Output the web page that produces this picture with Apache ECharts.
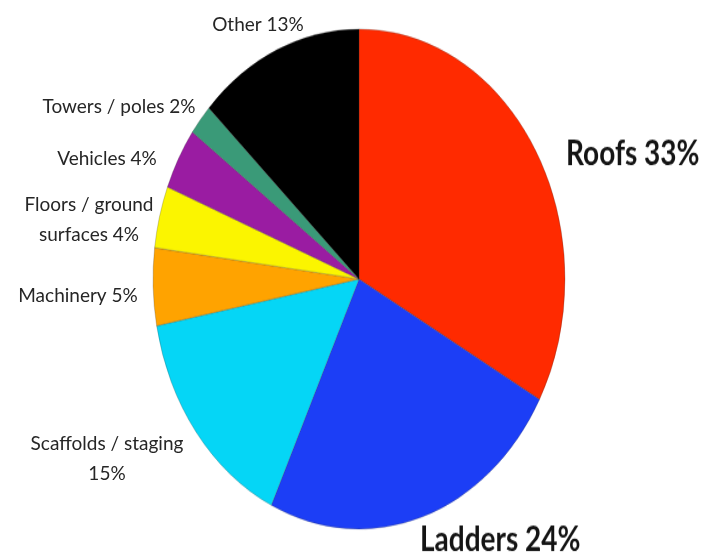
<!DOCTYPE html>
<html>
<head>
<meta charset="utf-8">
<script src="https://cdn.jsdelivr.net/npm/echarts@6/dist/echarts.min.js"></script>
<style>
html,body{margin:0;padding:0;background:#ffffff;}
#wrap{position:relative;width:705px;height:557px;overflow:hidden;background:#ffffff;}
#pie{position:absolute;left:0;top:0;width:705px;transform-origin:0 0;}
#labels{position:absolute;left:0;top:0;width:705px;height:557px;}
</style>
</head>
<body>
<div id="wrap"><div id="pie"></div><div id="labels"></div></div>
<script>
// ---- data ----
const categories = ['Roofs', 'Ladders', 'Scaffolds / staging', 'Machinery', 'Floors / ground\nsurfaces', 'Vehicles', 'Towers / poles', 'Other'];
const shares = [33, 24, 15, 5, 4, 4, 2, 13];
const valueSeparators = [' ', ' ', '\n', ' ', ' ', ' ', ' ', ' '];
const bigLabels = ['Roofs', 'Ladders'];

// ---- style ----
const colors = ['#ff2a00', '#1c3ef6', '#05d6f6', '#ffa300', '#fbf500', '#9a1ca2', '#3a9a78', '#000000'];
const ELL = { cx: 359, cy: 279, rx: 206, ry: 250 };
const SY = ELL.ry / ELL.rx;
const labelPlace = [
  { x: 566, y: 154, align: 'left' },
  { x: 420, y: 540, align: 'left' },
  { x: 107, y: 459, align: 'center' },
  { x: 78,  y: 296, align: 'center' },
  { x: 89,  y: 220, align: 'center' },
  { x: 107, y: 159, align: 'center' },
  { x: 119, y: 107, align: 'center' },
  { x: 258, y: 25,  align: 'center' }
];
const FONT = 'Lato, "Open Sans", "Liberation Sans", sans-serif';

function labelText(p) {
  return p.name + valueSeparators[p.dataIndex] + p.value + '%';
}

// ---- pie (drawn as a circle, stretched vertically into the ellipse) ----
const pieDiv = document.getElementById('pie');
pieDiv.style.height = (557 / SY) + 'px';
pieDiv.style.transform = 'scaleY(' + SY + ')';
const chartA = echarts.init(pieDiv, null, { renderer: 'canvas' });
chartA.setOption({
  animation: false,
  color: colors,
  series: [{
    type: 'pie',
    center: [ELL.cx, ELL.cy / SY],
    radius: ELL.rx,
    startAngle: 90,
    clockwise: true,
    avoidLabelOverlap: false,
    silent: true,
    itemStyle: { borderColor: 'rgba(50,50,50,0.3)', borderWidth: 0.8 },
    label: {
      show: true,
      position: 'outside',
      formatter: labelText,
      fontFamily: FONT,
      fontWeight: 'bold',
      fontSize: 28,
      color: '#141414'
    },
    labelLine: { show: false },
    labelLayout: function (p) {
      const L = labelPlace[p.dataIndex];
      return { x: L.x, y: L.y / SY, align: L.align, verticalAlign: 'middle' };
    },
    data: categories.map(function (c, i) {
      return { name: c, value: shares[i], label: { show: bigLabels.indexOf(c) >= 0 } };
    })
  }]
});

// ---- small labels (unstretched text) ----
const chartB = echarts.init(document.getElementById('labels'), null, { renderer: 'canvas' });
chartB.setOption({
  animation: false,
  series: [{
    type: 'pie',
    center: [ELL.cx, ELL.cy],
    radius: ELL.rx,
    startAngle: 90,
    clockwise: true,
    avoidLabelOverlap: false,
    silent: true,
    itemStyle: { color: 'rgba(0,0,0,0)', borderWidth: 0 },
    label: {
      show: true,
      position: 'outside',
      formatter: labelText,
      fontFamily: FONT,
      fontSize: 19,
      lineHeight: 30,
      align: 'center',
      color: '#262626'
    },
    labelLine: { show: false },
    labelLayout: function (p) {
      const L = labelPlace[p.dataIndex];
      return { x: L.x, y: L.y, align: L.align, verticalAlign: 'middle' };
    },
    data: categories.map(function (c, i) {
      return { name: c, value: shares[i], label: { show: bigLabels.indexOf(c) < 0 } };
    })
  }]
});
</script>
</body>
</html>
